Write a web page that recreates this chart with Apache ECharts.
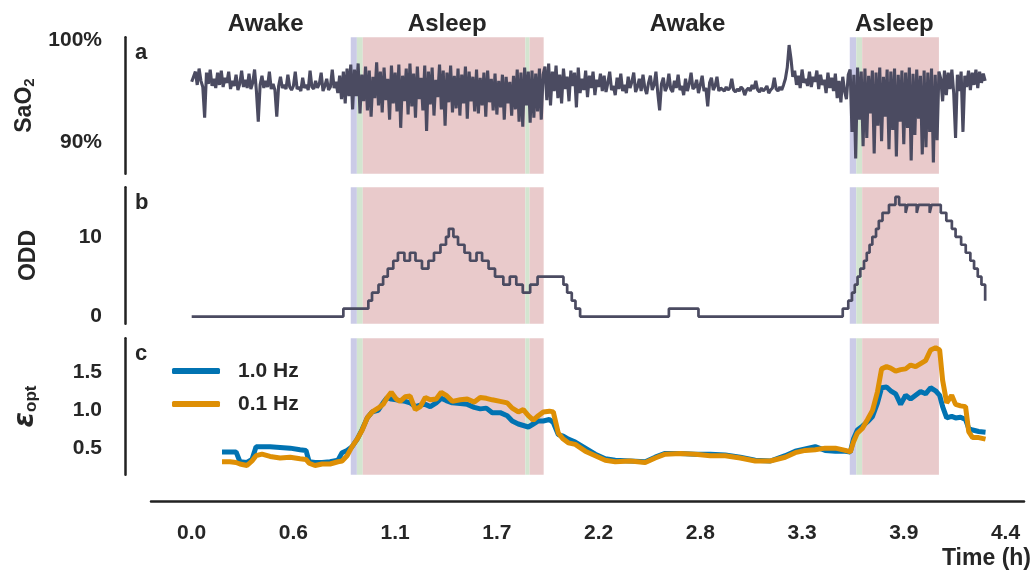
<!DOCTYPE html>
<html><head><meta charset="utf-8">
<script src="https://cdn.jsdelivr.net/npm/echarts@6/dist/echarts.min.js"></script>
<style>html,body{margin:0;padding:0;background:#fff}#c{width:1034px;height:575px}</style>
</head><body><div id="c"></div><script>
// ---------- data ----------
const X_TICKS = [0, 0.55, 1.1, 1.65, 2.2, 2.75, 3.3, 3.85, 4.4];
const X_TICK_LABELS = ['0.0', '0.6', '1.1', '1.7', '2.2', '2.8', '3.3', '3.9', '4.4'];

// SaO2 (%) sampled at a constant interval (hours)
const SAO2_START = 0.0;
const SAO2_STEP = 0.01;
const SAO2 = [
  // awake
  95.9, 96.4, 96.9, 95.6, 97.2, 96.0, 95.4, 92.4, 96.8, 95.7,
  97.1, 95.5, 96.2, 95.3, 96.8, 95.6, 97.0, 95.4, 96.3, 95.8,
  96.9, 95.2, 96.0, 95.5, 96.6, 95.1, 95.7, 97.0, 95.4, 96.1,
  95.3, 96.7, 95.2, 95.8, 97.1, 95.0, 92.0, 95.6, 96.5, 95.3,
  96.0, 95.4, 96.9, 95.2, 95.7, 95.1, 92.5, 95.5, 96.4, 95.3,
  95.6, 95.2, 96.6, 95.4, 95.1, 95.5, 96.9, 95.2, 95.4, 95.0,
  96.3, 95.3, 95.6, 95.1, 97.0, 95.4, 95.2, 96.0, 95.3, 95.7,
  96.8, 95.0, 95.5, 96.2, 95.1, 95.4, 97.1, 95.3, 95.9, 94.8,
  96.5, 94.2, 96.9, 93.8, 97.2, 94.5,
  // asleep
  97.6, 93.2, 97.1, 94.5, 97.7, 92.8, 96.6, 94.0, 97.4, 93.1,
  97.0, 92.5, 96.4, 94.3, 97.8, 93.6, 96.9, 92.9, 97.3, 94.1,
  96.2, 92.2, 97.5, 93.8, 96.8, 93.0, 97.6, 91.4, 96.5, 94.0,
  97.2, 92.7, 97.7, 93.5, 96.7, 92.4, 97.4, 94.2, 96.3, 93.1,
  97.5, 91.1, 96.9, 93.7, 97.3, 92.6, 96.1, 94.4, 97.6, 93.2,
  97.0, 91.6, 96.8, 93.9, 97.5, 92.9, 96.5, 93.3, 97.2, 92.6,
  96.6, 93.8, 97.4, 92.3, 96.9, 94.0, 96.4, 93.0, 97.1, 92.8,
  96.3, 93.6, 96.8, 92.5, 97.0, 93.9, 96.2, 93.1, 96.7, 92.7,
  96.0, 93.4, 96.6, 92.2, 96.4, 93.8, 95.9, 92.6, 96.5, 93.2,
  97.1, 92.0, 96.8, 91.5, 97.3, 93.6, 96.9, 91.9, 97.0, 92.4,
  96.7, 93.0, 97.2, 92.2, 96.6,
  // awake
  97.4, 94.1, 97.7, 93.6, 96.9, 95.0, 97.5, 94.3, 96.6, 93.8,
  97.2, 95.2, 96.4, 94.0, 97.0, 95.5, 96.8, 93.4, 97.3, 94.8,
  96.2, 95.1, 97.0, 94.4, 96.5, 95.3, 96.9, 94.6, 96.1, 95.4, 96.7,
  95.0, 96.5, 94.9, 95.8, 96.9, 95.1, 95.5, 94.6, 96.3, 95.2,
  96.7, 95.0, 95.6, 94.8, 96.4, 95.3, 95.9, 96.8, 94.9, 95.4,
  96.2, 95.0, 96.6, 95.3, 94.7, 95.8, 96.5, 95.1, 95.6, 96.9,
  94.8, 93.1, 95.7, 96.3, 95.0, 95.4, 96.7, 95.2, 94.9, 96.0,
  95.3, 96.6, 95.1, 95.5, 94.6, 96.2, 95.0, 95.7, 96.8, 95.2,
  95.4, 96.1, 94.8, 95.6, 96.5, 95.0, 95.3, 93.5, 95.8, 96.3,
  95.1, 95.5, 96.4, 95.0, 95.3,
  95.2, 95.0, 95.4, 95.1, 95.3, 96.2, 95.1, 94.9, 95.2, 95.0,
  95.4, 95.2, 94.6, 95.1, 95.3, 95.0, 95.6, 95.2, 96.0, 95.1,
  94.9, 95.3, 95.0, 95.2, 95.5, 94.8, 95.1, 95.3, 96.3, 95.2,
  95.0, 95.4, 95.1, 95.6, 96.2, 97.3, 99.5,
  98.2, 96.4, 97.0, 95.6, 96.5, 95.3, 97.1, 95.8, 96.2, 95.5,
  96.9, 95.4, 96.4, 95.9, 97.0, 95.2, 96.6, 95.6, 96.1, 94.8,
  96.8, 95.3, 96.3, 95.0, 96.7, 94.3, 96.0, 93.9, 96.4, 95.0,
  94.2, 96.6,
  // asleep
  97.1, 91.0, 96.6, 88.4, 97.3, 92.2, 96.9, 89.6, 97.2, 90.4,
  96.5, 92.8, 97.0, 88.9, 96.8, 91.6, 97.3, 90.1, 96.4, 92.5,
  97.1, 89.3, 96.9, 91.2, 97.2, 88.6, 96.6, 92.0, 97.0, 89.8,
  96.8, 91.4, 97.3, 88.2, 96.7, 90.7, 97.1, 92.3, 96.5, 88.8,
  97.0, 89.5, 96.8, 91.0, 97.2, 88.0, 96.6, 90.2, 96.9,
  // awake
  96.2, 94.0, 97.0, 94.6, 96.8, 95.2, 97.1, 94.8, 90.4, 96.6,
  95.0, 96.9, 91.0, 96.5, 95.4, 97.0, 95.1, 96.8, 95.6, 97.1,
  95.3, 96.9, 95.8, 96.7, 96.0
];

// ODD: change points (hours) and the value held from each one
const ODD_T = [0.0, 0.82, 0.955, 0.975, 1.01, 1.035, 1.06, 1.09, 1.115, 1.15, 1.18, 1.21, 1.245, 1.28, 1.31, 1.345,
  1.375, 1.39, 1.415, 1.44, 1.475, 1.505, 1.54, 1.57, 1.605, 1.64, 1.685, 1.72, 1.755, 1.79, 1.83, 1.87,
  2.01, 2.03, 2.055, 2.075, 2.10, 2.58, 2.74, 3.52, 3.55, 3.57, 3.585, 3.60, 3.615, 3.635, 3.65, 3.665, 3.68,
  3.70, 3.715, 3.735, 3.77, 3.805, 3.825, 3.86, 3.87, 3.92, 3.93, 3.99, 4.0, 4.05, 4.08, 4.11, 4.13, 4.16, 4.185,
  4.21, 4.23, 4.25, 4.27, 4.29];
const ODD = [0, 1, 2, 3, 4, 5, 6, 7, 8, 7, 8, 7, 6, 7, 8, 9,
  10, 11, 10, 9, 8, 7, 8, 7, 6, 5, 4, 5, 4, 3, 4, 5,
  4, 3, 2, 1, 0, 1, 0, 1, 2, 3, 4, 5, 6, 7, 8, 9, 10,
  11, 12, 13, 14, 15, 14, 13, 14, 13, 14, 13, 14, 13, 12, 11, 10, 9, 8,
  7, 6, 5, 4, 2];

// epsilon_opt
const EPS_T = [0.164, 0.207, 0.240, 0.261, 0.299, 0.326, 0.348, 0.380, 0.424, 0.478, 0.532, 0.586, 0.618, 0.635,
  0.667, 0.705, 0.748, 0.791, 0.813, 0.840, 0.867, 0.895, 0.922, 0.949, 0.976, 1.008, 1.035, 1.057, 1.079,
  1.106, 1.127, 1.154, 1.181, 1.209, 1.236, 1.263, 1.290, 1.322, 1.349, 1.376, 1.409, 1.452, 1.490, 1.528,
  1.560, 1.593, 1.625, 1.668, 1.706, 1.733, 1.766, 1.793, 1.820, 1.847, 1.874, 1.901, 1.934, 1.955, 1.982,
  2.009, 2.036, 2.074, 2.128, 2.182, 2.236, 2.290, 2.371, 2.452, 2.506, 2.560, 2.642, 2.723, 2.804, 2.885,
  2.966, 3.047, 3.128, 3.209, 3.263, 3.317, 3.371, 3.425, 3.480, 3.534, 3.561, 3.578, 3.599, 3.626, 3.654,
  3.681, 3.708, 3.730, 3.757, 3.779, 3.806, 3.833, 3.860, 3.887, 3.914, 3.941, 3.968, 3.995, 4.022, 4.044,
  4.060, 4.082, 4.109, 4.130, 4.157, 4.184, 4.201, 4.222, 4.255, 4.292];
const EPS_1HZ = [0.45, 0.45, 0.45, 0.32, 0.31, 0.35, 0.52, 0.52, 0.52, 0.51, 0.50, 0.48, 0.47, 0.32,
  0.31, 0.31, 0.32, 0.34, 0.44, 0.47, 0.52, 0.62, 0.75, 0.90, 0.98, 1.00, 1.10, 1.17, 1.15,
  1.14, 1.13, 1.12, 1.10, 1.05, 1.07, 1.08, 1.05, 1.10, 1.16, 1.13, 1.10, 1.09, 1.08, 1.04,
  1.02, 1.03, 0.97, 0.97, 0.93, 0.86, 0.82, 0.80, 0.78, 0.82, 0.86, 0.86, 0.88, 0.84, 0.68,
  0.66, 0.62, 0.58, 0.50, 0.42, 0.36, 0.34, 0.33, 0.32, 0.38, 0.43, 0.43, 0.42, 0.42, 0.41,
  0.38, 0.34, 0.33, 0.40, 0.46, 0.49, 0.52, 0.47, 0.46, 0.46, 0.45, 0.62, 0.74, 0.79, 0.85,
  0.92, 1.10, 1.30, 1.31, 1.26, 1.22, 1.08, 1.20, 1.15, 1.20, 1.25, 1.22, 1.30, 1.26, 1.20,
  1.05, 0.90, 0.92, 0.90, 0.91, 0.88, 0.76, 0.74, 0.72, 0.71];
const EPS_01HZ = [0.32, 0.32, 0.31, 0.29, 0.27, 0.33, 0.40, 0.42, 0.39, 0.37, 0.38, 0.36, 0.35, 0.30,
  0.27, 0.29, 0.29, 0.32, 0.33, 0.40, 0.52, 0.62, 0.74, 0.90, 0.98, 1.03, 1.08, 1.17, 1.24,
  1.15, 1.12, 1.18, 1.19, 1.01, 1.05, 1.17, 1.14, 1.15, 1.24, 1.20, 1.12, 1.14, 1.15, 1.11,
  1.17, 1.16, 1.14, 1.12, 1.10, 1.03, 0.98, 1.01, 0.93, 0.87, 0.93, 0.98, 0.99, 0.98, 0.70,
  0.62, 0.57, 0.55, 0.46, 0.40, 0.34, 0.32, 0.33, 0.31, 0.37, 0.42, 0.43, 0.42, 0.40, 0.40,
  0.37, 0.33, 0.33, 0.38, 0.44, 0.47, 0.48, 0.50, 0.50, 0.47, 0.45, 0.58, 0.70, 0.76, 0.88,
  1.00, 1.25, 1.55, 1.58, 1.56, 1.52, 1.54, 1.55, 1.60, 1.58, 1.62, 1.66, 1.80, 1.83, 1.80,
  1.40, 1.10, 1.20, 1.08, 1.06, 1.05, 0.72, 0.64, 0.64, 0.62];

// sleep-stage intervals (hours)
const STAGE_START = [0.860, 0.893, 0.925, 1.804, 1.827, 3.558, 3.593, 3.625];
const STAGE_END   = [0.893, 0.925, 1.804, 1.827, 1.903, 3.593, 3.625, 4.040];
const STAGE_KIND  = ['N1', 'N2', 'N3', 'N2', 'N3', 'N1', 'N2', 'N3'];

const STATE_LABELS = ['Awake', 'Asleep', 'Awake', 'Asleep'];
const PANEL_LETTERS = ['a', 'b', 'c'];
const SERIES_NAMES = ['1.0 Hz', '0.1 Hz'];

// ---------- styling ----------
const FONT = 'Liberation Sans, Arial, sans-serif';
const TXT = '#262626';
const LINE_DARK = '#4b4b61';
const STAGE_COLOR = { N1: '#cbcbe7', N2: '#d3e5d0', N3: '#e9cacb' };

const saoData = SAO2.map((v, i) => [SAO2_START + i * SAO2_STEP, v]);
const oddData = ODD_T.map((t, i) => [t, ODD[i]]);
const eps1 = EPS_T.map((t, i) => [t, EPS_1HZ[i]]);
const eps2 = EPS_T.map((t, i) => [t, EPS_01HZ[i]]);

const bands = {
  silent: true,
  data: STAGE_START.map((s, i) => [
    { xAxis: s, itemStyle: { color: STAGE_COLOR[STAGE_KIND[i]], opacity: 1 } },
    { xAxis: STAGE_END[i] }
  ])
};

const GRID_TOPS = [37.3, 187.3, 338.3];
const GRID_H = 136.5;

const xAxes = [0, 1, 2].map(g => ({
  gridIndex: g, type: 'value', min: -0.22, max: 4.5,
  show: g === 2, offset: 26,
  axisLine: { show: true, onZero: false, lineStyle: { color: '#222', width: 2.5 } },
  axisTick: { show: false }, splitLine: { show: false },
  axisLabel: {
    customValues: X_TICKS,
    formatter: v => X_TICK_LABELS[Math.round(v / 0.55)],
    margin: 22, fontSize: 21, fontWeight: 'bold', color: TXT, fontFamily: FONT
  }
}));

function yAx(g, min, max, ticks, fmt, name, rich) {
  return {
    gridIndex: g, type: 'value', min, max, offset: 26,
    axisLine: { show: true, onZero: false, lineStyle: { color: '#222', width: 2.5 } },
    axisTick: { show: false }, splitLine: { show: false },
    axisLabel: {
      customValues: ticks, formatter: fmt, margin: 23,
      fontSize: 21, fontWeight: 'bold', color: TXT, fontFamily: FONT
    },
    name, nameLocation: 'middle', nameGap: 85, nameRotate: 90,
    nameTextStyle: { fontSize: 23, fontWeight: 'bold', color: TXT, fontFamily: FONT, rich }
  };
}

const chart = echarts.init(document.getElementById('c'), null, { renderer: 'canvas' });
chart.setOption({
  animation: false,
  backgroundColor: '#fff',
  grid: GRID_TOPS.map(t => ({ left: 151, right: 10, top: t, height: GRID_H })),
  xAxis: xAxes,
  yAxis: [
    yAx(0, 86.9, 100.26, [90, 100], v => v + '%', 'SaO{s|2}',
      { s: { fontSize: 15, fontWeight: 'bold', color: TXT, fontFamily: FONT, padding: [10, 0, 0, 0] } }),
    yAx(1, -0.9, 16.2, [0, 10], v => String(v), 'ODD'),
    yAx(2, 0.147, 1.955, [0.5, 1.0, 1.5], v => v.toFixed(1), '{e|ε}{s|opt}',
      { e: { fontSize: 28, fontWeight: 'bold', fontStyle: 'italic', color: TXT, fontFamily: 'DejaVu Sans, ' + FONT },
        s: { fontSize: 17, fontWeight: 'bold', color: TXT, fontFamily: FONT, padding: [12, 0, 0, 0] } })
  ],
  legend: {
    orient: 'vertical', left: 172, top: 360, itemGap: 11, padding: 0,
    itemWidth: 48, itemHeight: 6, icon: 'roundRect',
    data: SERIES_NAMES,
    textStyle: { fontSize: 21, fontWeight: 'bold', color: TXT, fontFamily: FONT, lineHeight: 22, padding: [0, 0, 0, 13] }
  },
  series: [
    { type: 'line', xAxisIndex: 0, yAxisIndex: 0, data: saoData, showSymbol: false, z: 3,
      lineStyle: { color: LINE_DARK, width: 3.1 }, itemStyle: { color: LINE_DARK }, markArea: bands },
    { type: 'line', xAxisIndex: 1, yAxisIndex: 1, data: oddData, step: 'end', showSymbol: false, z: 3,
      lineStyle: { color: LINE_DARK, width: 2.7 }, itemStyle: { color: LINE_DARK }, markArea: bands },
    { name: SERIES_NAMES[0], type: 'line', xAxisIndex: 2, yAxisIndex: 2, data: eps1, showSymbol: false, z: 3,
      lineStyle: { color: '#0173b2', width: 5 }, itemStyle: { color: '#0173b2' }, markArea: bands },
    { name: SERIES_NAMES[1], type: 'line', xAxisIndex: 2, yAxisIndex: 2, data: eps2, showSymbol: false, z: 4,
      lineStyle: { color: '#de8f05', width: 5 }, itemStyle: { color: '#de8f05' } }
  ]
});

// text annotations: state titles centred over their intervals, panel letters, axis title
const stateCenters = [
  (SAO2_START + STAGE_START[0]) / 2 - 0.03,
  (STAGE_START[0] + STAGE_END[4]) / 2,
  (STAGE_END[4] + STAGE_START[5]) / 2 - 0.05,
  (STAGE_START[5] + STAGE_END[7]) / 2
];
const graphics = [];
STATE_LABELS.forEach((s, i) => {
  const x = chart.convertToPixel({ xAxisIndex: 0 }, stateCenters[i]);
  graphics.push({ type: 'text', x: x, y: 12, style: { text: s, fontSize: 24, fontWeight: 'bold', fill: TXT, fontFamily: FONT, align: 'center' } });
});
PANEL_LETTERS.forEach((l, i) => {
  graphics.push({ type: 'text', x: 135, y: GRID_TOPS[i] + 5, style: { text: l, fontSize: 22, fontWeight: 'bold', fill: TXT, fontFamily: FONT } });
});
graphics.push({ type: 'text', right: 3, top: 547, style: { text: 'Time (h)', fontSize: 23, fontWeight: 'bold', fill: TXT, fontFamily: FONT } });
chart.setOption({ graphic: graphics });
</script></body></html>
